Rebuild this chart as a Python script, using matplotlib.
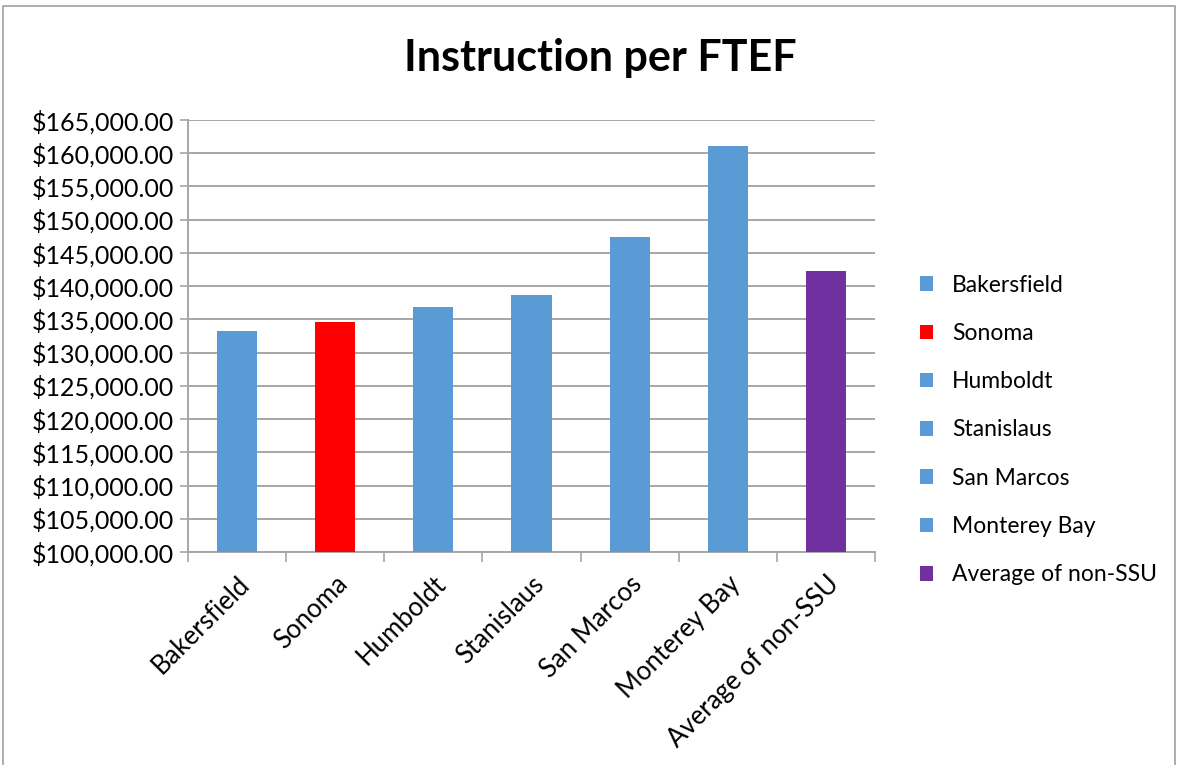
import matplotlib.pyplot as plt
from matplotlib.patches import Rectangle, Patch
from matplotlib.ticker import FuncFormatter, MultipleLocator, FixedLocator

plt.rcParams['font.family'] = ['Lato', 'DejaVu Sans']

# ---- DATA ----
campuses = ['Bakersfield', 'Sonoma', 'Humboldt', 'Stanislaus',
            'San Marcos', 'Monterey Bay', 'Average of non-SSU']
values = [133300, 134650, 136890, 138650, 147460, 161160, 142250]
colors = ['#5B9BD5', '#FF0000', '#5B9BD5', '#5B9BD5',
          '#5B9BD5', '#5B9BD5', '#7030A0']

fig = plt.figure(figsize=(11.78, 7.65), dpi=100)
ax = fig.add_axes([188 / 1178, 1 - 552 / 765, (875 - 188) / 1178, (552 - 120) / 765])

x = range(len(campuses))
ax.bar(x, values, width=0.41, color=colors, zorder=3)

ax.set_ylim(100000, 165000)
ax.set_xlim(-0.5, len(campuses) - 0.5)
ax.yaxis.set_major_locator(MultipleLocator(5000))
ax.yaxis.set_major_formatter(FuncFormatter(lambda v, p: f"${v:,.2f}"))
ax.grid(axis='y', color='#a6a6a6', linewidth=1.4, zorder=0)

ax.set_xticks(list(x))
ax.set_xticklabels(campuses, rotation=45, ha='right', rotation_mode='anchor', fontsize=18.5)
ax.tick_params(axis='x', length=0, pad=14)
ax.xaxis.set_minor_locator(FixedLocator([i - 0.5 for i in range(len(campuses) + 1)]))
ax.tick_params(axis='x', which='minor', length=7, color='#a6a6a6', width=1.2)
ax.tick_params(axis='y', labelsize=18, length=6, color='#a6a6a6', width=1.2, pad=4)

for s in ['top', 'right']:
    ax.spines[s].set_visible(False)
for s in ['left', 'bottom']:
    ax.spines[s].set_color('#a6a6a6')
    ax.spines[s].set_linewidth(1.4)

fig.text(600 / 1178, 1 - 58 / 765, 'Instruction per FTEF', ha='center', va='center',
         fontsize=31, fontweight='bold')

handles = [Patch(facecolor=c, label=n) for c, n in zip(colors, campuses)]
fig.legend(handles=handles, loc='center left', bbox_to_anchor=(899 / 1178, 1 - 430 / 765),
           frameon=False, fontsize=16.5, handlelength=0.6, handleheight=0.6,
           labelspacing=1.19, handletextpad=0.8)

fig.patches.append(Rectangle((3 / 1178, -0.01), 1172 / 1178, 1 - 6 / 765 + 0.01,
                             transform=fig.transFigure, fill=False,
                             edgecolor='#a0a0a0', linewidth=1.2))

fig.savefig('out.png', dpi=100)
